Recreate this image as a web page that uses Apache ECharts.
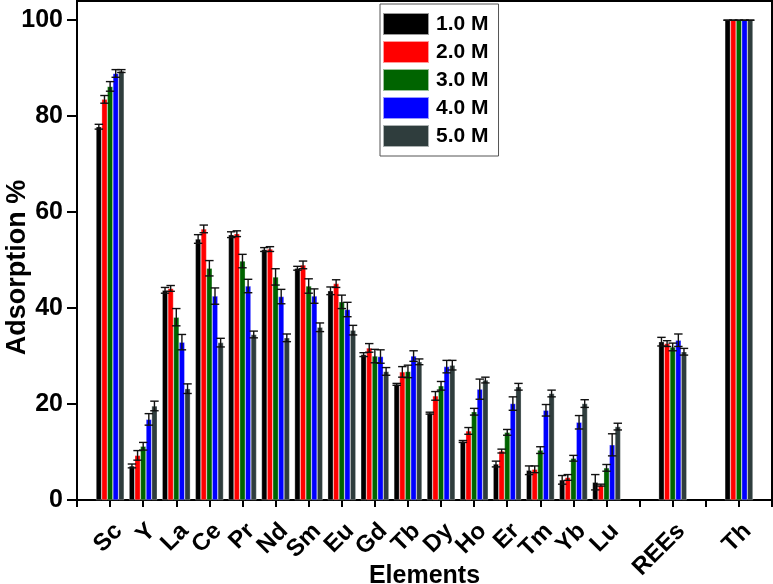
<!DOCTYPE html>
<html>
<head>
<meta charset="utf-8">
<script src="https://cdn.jsdelivr.net/npm/echarts@6/dist/echarts.min.js"></script>
<style>
  html, body { margin: 0; padding: 0; background: #fff; }
  #chart { width: 773px; height: 584px; }
</style>
</head>
<body>
<div id="chart"></div>
<script>
  // tick slots along the x axis (blank slots are empty ticks)
  var elements = [' ', 'Sc', 'Y', 'La', 'Ce', 'Pr', 'Nd', 'Sm', 'Eu', 'Gd', 'Tb', 'Dy', 'Ho', 'Er', 'Tm', 'Yb', 'Lu', '  ', 'REEs', '   ', 'Th', '    ']
  var seriesNames = ['1.0 M', '2.0 M', '3.0 M', '4.0 M', '5.0 M']
  var colors = ['#000000', '#ff0000', '#006400', '#0000ff', '#2f3d3d']

  // adsorption % per concentration
  var m1 = [null, 77.8, 7.1, 43.7, 54.4, 55.3, 52.2, 48.3, 43.6, 30.3, 24.1, 18.1, 12.2, 7.5, 6.2, 4.2, 3.7, null, 33.0, null, 100, null]
  var m2 = [null, 83.5, 9.3, 44.1, 56.5, 55.5, 52.3, 49.0, 45.1, 31.7, 26.7, 21.7, 14.4, 10.2, 6.4, 4.7, 3.1, null, 32.6, null, 100, null]
  var m3 = [null, 86.2, 11.2, 38.1, 48.3, 49.8, 46.5, 44.6, 41.3, 30.0, 26.8, 23.8, 18.4, 14.1, 10.4, 8.7, 6.7, null, 31.9, null, 100, null]
  var m4 = [null, 88.9, 16.8, 32.9, 42.5, 44.6, 42.4, 42.5, 39.7, 29.9, 30.0, 27.8, 23.1, 20.1, 18.7, 16.2, 11.5, null, 33.3, null, 100, null]
  var m5 = [null, 89.4, 19.6, 23.2, 32.8, 34.5, 33.8, 36.0, 35.4, 26.8, 28.8, 28.1, 25.0, 23.6, 22.2, 20.1, 15.3, null, 30.9, null, 100, null]

  // error (+/-)
  var e1 = [null, 0.5, 0.4, 0.6, 0.9, 0.6, 0.4, 0.4, 0.8, 0.4, 0.2, 0.2, 0.2, 0.6, 0.9, 0.9, 1.6, null, 0.9, null, 0, null]
  var e2 = [null, 0.8, 1.0, 0.6, 0.8, 0.6, 0.5, 0.8, 0.8, 0.9, 1.1, 0.9, 0.7, 0.4, 0.7, 0.6, 0.2, null, 0.6, null, 0, null]
  var e3 = [null, 1.0, 0.8, 1.8, 1.6, 1.4, 1.7, 1.5, 1.4, 1.4, 1.3, 0.9, 0.7, 0.6, 0.7, 0.6, 0.7, null, 0.8, null, 0, null]
  var e4 = [null, 0.8, 1.2, 1.6, 1.7, 1.4, 1.5, 1.5, 1.5, 1.4, 1.1, 1.3, 2.1, 1.4, 1.2, 1.4, 2.3, null, 1.3, null, 0, null]
  var e5 = [null, 0.3, 1.0, 1.0, 0.9, 0.7, 0.8, 0.9, 1.0, 0.8, 0.6, 1.0, 0.6, 0.7, 0.7, 0.8, 0.7, null, 0.7, null, 0, null]

  var values = [m1, m2, m3, m4, m5]
  var errors = [e1, e2, e3, e4, e5]

  var font = 'Liberation Sans, Arial, sans-serif'
  var catGap = 0.15

  var chart = echarts.init(document.getElementById('chart'))

  var series = []
  values.forEach(function (vals, i) {
    series.push({
      name: seriesNames[i],
      type: 'bar',
      barGap: '0%',
      barCategoryGap: (catGap * 100) + '%',
      itemStyle: { color: colors[i], borderColor: 'rgba(255,255,255,0.6)', borderWidth: 0.5 },
      data: vals.map(function (v) { return v == null ? '-' : v })
    })
  })
  values.forEach(function (vals, i) {
    var pts = []
    vals.forEach(function (v, k) {
      if (v != null) pts.push([k, v, errors[i][k]])
    })
    series.push({
      name: 'err' + i,
      type: 'custom',
      z: 10,
      encode: { x: 0, y: 1 },
      data: pts,
      renderItem: function (params, api) {
        var idx = api.value(0)
        var v = api.value(1)
        var err = api.value(2)
        var band = api.size([1, 0])[0]
        var bw = band * (1 - catGap) / 5
        var top = api.coord([idx, v + err])
        var bot = api.coord([idx, v - err])
        var x = top[0] + (i - 2) * bw
        var cap = bw * 0.75
        var st = { stroke: '#111', lineWidth: 1.4 }
        return {
          type: 'group',
          children: [
            { type: 'line', shape: { x1: x, y1: top[1], x2: x, y2: bot[1] }, style: st },
            { type: 'line', shape: { x1: x - cap, y1: top[1], x2: x + cap, y2: top[1] }, style: st },
            { type: 'line', shape: { x1: x - cap, y1: bot[1], x2: x + cap, y2: bot[1] }, style: st }
          ]
        }
      }
    })
  })

  chart.setOption({
    animation: false,
    textStyle: { fontFamily: font },
    grid: {
      left: 77, right: 1, top: 1, bottom: 84,
      outerBoundsMode: 'none',
      containLabel: false,
      show: true, borderColor: '#000', borderWidth: 2
    },
    legend: {
      data: seriesNames,
      orient: 'vertical',
      left: 380,
      top: 4,
      itemWidth: 46,
      itemHeight: 22,
      itemGap: 4,
      padding: [8, 10, 8, 2],
      borderColor: '#555',
      borderWidth: 1,
      backgroundColor: '#fff',
      icon: 'rect',
      textStyle: { fontSize: 21, fontWeight: 'bold', color: '#000', fontFamily: font, padding: [0, 0, 0, 2] }
    },
    xAxis: {
      type: 'category',
      data: elements,
      boundaryGap: false,
      name: 'Elements',
      nameLocation: 'middle',
      nameGap: 64,
      nameMoveOverlap: false,
      nameTextStyle: { fontSize: 25, fontWeight: 'bold', color: '#000', verticalAlign: 'top' },
      axisLine: { lineStyle: { color: '#000', width: 2 } },
      axisTick: { show: true, interval: 0, length: 7, lineStyle: { width: 2, color: '#000' } },
      axisLabel: { interval: 0, rotate: 45, fontSize: 24, fontWeight: 'bold', color: '#000', margin: 19, verticalAlign: 'top' },
      splitLine: { show: false }
    },
    yAxis: {
      type: 'value',
      min: 0,
      max: 104,
      interval: 20,
      name: 'Adsorption %',
      nameLocation: 'middle',
      nameGap: 46,
      nameMoveOverlap: false,
      nameTextStyle: { fontSize: 27, fontWeight: 'bold', color: '#000', padding: [0, 34, 0, 0] },
      axisLine: { show: true, lineStyle: { color: '#000', width: 2 } },
      axisTick: { show: true, length: 10, lineStyle: { width: 2, color: '#000' } },
      axisLabel: { fontSize: 25, fontWeight: 'bold', color: '#000', margin: 14, showMaxLabel: false,
        formatter: function (v) { return v % 20 === 0 ? v : '' } },
      splitLine: { show: false }
    },
    series: series
  })
</script>
</body>
</html>
